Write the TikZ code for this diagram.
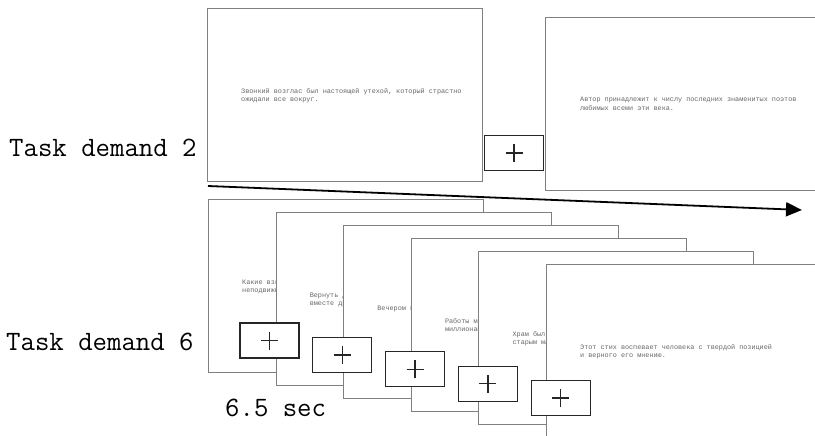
\documentclass[tikz,border=0pt]{standalone}
\usepackage{fontspec}
\newfontfamily\monofont{Liberation Mono}
\usetikzlibrary{arrows.meta,calc,positioning}

\tikzset{
  screenbox/.style={draw=black!50,line width=0.9pt,fill=white,anchor=north west,
    minimum width=275pt,minimum height=173pt,inner sep=0pt},
  stimtext/.style={anchor=north west,align=left,inner sep=0pt,text=black!60,
    font=\monofont\fontsize{6.8}{8.5}\selectfont},
  fixbox/.style={draw=black!85,line width=1.3pt,fill=white,minimum width=59pt,
    minimum height=35pt,inner sep=0pt,
    path picture={\draw[line width=1.3pt]
      ([xshift=-8.5pt]path picture bounding box.center) -- ([xshift=8.5pt]path picture bounding box.center)
      ([yshift=-9pt]path picture bounding box.center) -- ([yshift=9pt]path picture bounding box.center);}},
  tasklabel/.style={font=\ttfamily\fontsize{28}{32}\selectfont,inner sep=0pt,anchor=base west},
  timearrow/.style={line width=1.8pt,-{Triangle[length=16pt,width=14pt]}}
}

\begin{document}
\begin{tikzpicture}[x=1pt,y=-1pt]
  \path[use as bounding box,clip] (0,0) rectangle (815,436);
  % task demand 2
  \node[screenbox] (topA) at (207,8) {};
  \node[stimtext] at ([xshift=34pt,yshift=-80pt]topA.north west)
    {Звонкий возглас был настоящей утехой, который страстно\\ожидали все вокруг.};
  \node[screenbox,minimum width=280pt] (topB) at (545,17) {};
  \node[stimtext] at ([xshift=35pt,yshift=-80pt]topB.north west)
    {Автор принадлежит к числу последних знаменитых поэтов\\любимых всеми эти века.};
  \node[fixbox] (fixtop) at (514,153) {};
  \node[tasklabel] (td2) at (9,157) {Task demand 2};
  % time axis
  \coordinate (tstart) at (208,186);
  \coordinate (tend) at (802,210);
  \draw[timearrow] (tstart) -- (tend);
  % task demand 6
  \foreach \i/\ta/\tb in {0/{Какие взгляды были у него}/{неподвижны и тихи.},
      1/{Вернуть долг было нелегко}/{вместе друзьями.},
      2/{Вечером в доме было тихо}/{},
      3/{Работы мастера хранятся}/{миллионам людей.},
      4/{Храм был построен давно}/{старым мастером.},
      5/{Этот стих воспевает человека с твердой позицией}/{и верного его мнению.}}{
    \node[screenbox,minimum width={\i==5 ? 290 : 275}] (low\i) at (208+67.6*\i,199+13*\i) {};
    \node[stimtext] at ([xshift=34pt,yshift=-80pt]low\i.north west) {\ta\\\tb};
  }
  \foreach \i in {0,...,4}{
    \node[fixbox] (fix\i) at (269.5+72.8*\i,340.5+14.4*\i) {};
  }
  \node[tasklabel] (td6) at (6,350) {Task demand 6};
  \node[tasklabel] (dur) at (225,416) {6.5 sec};
\end{tikzpicture}
\end{document}
